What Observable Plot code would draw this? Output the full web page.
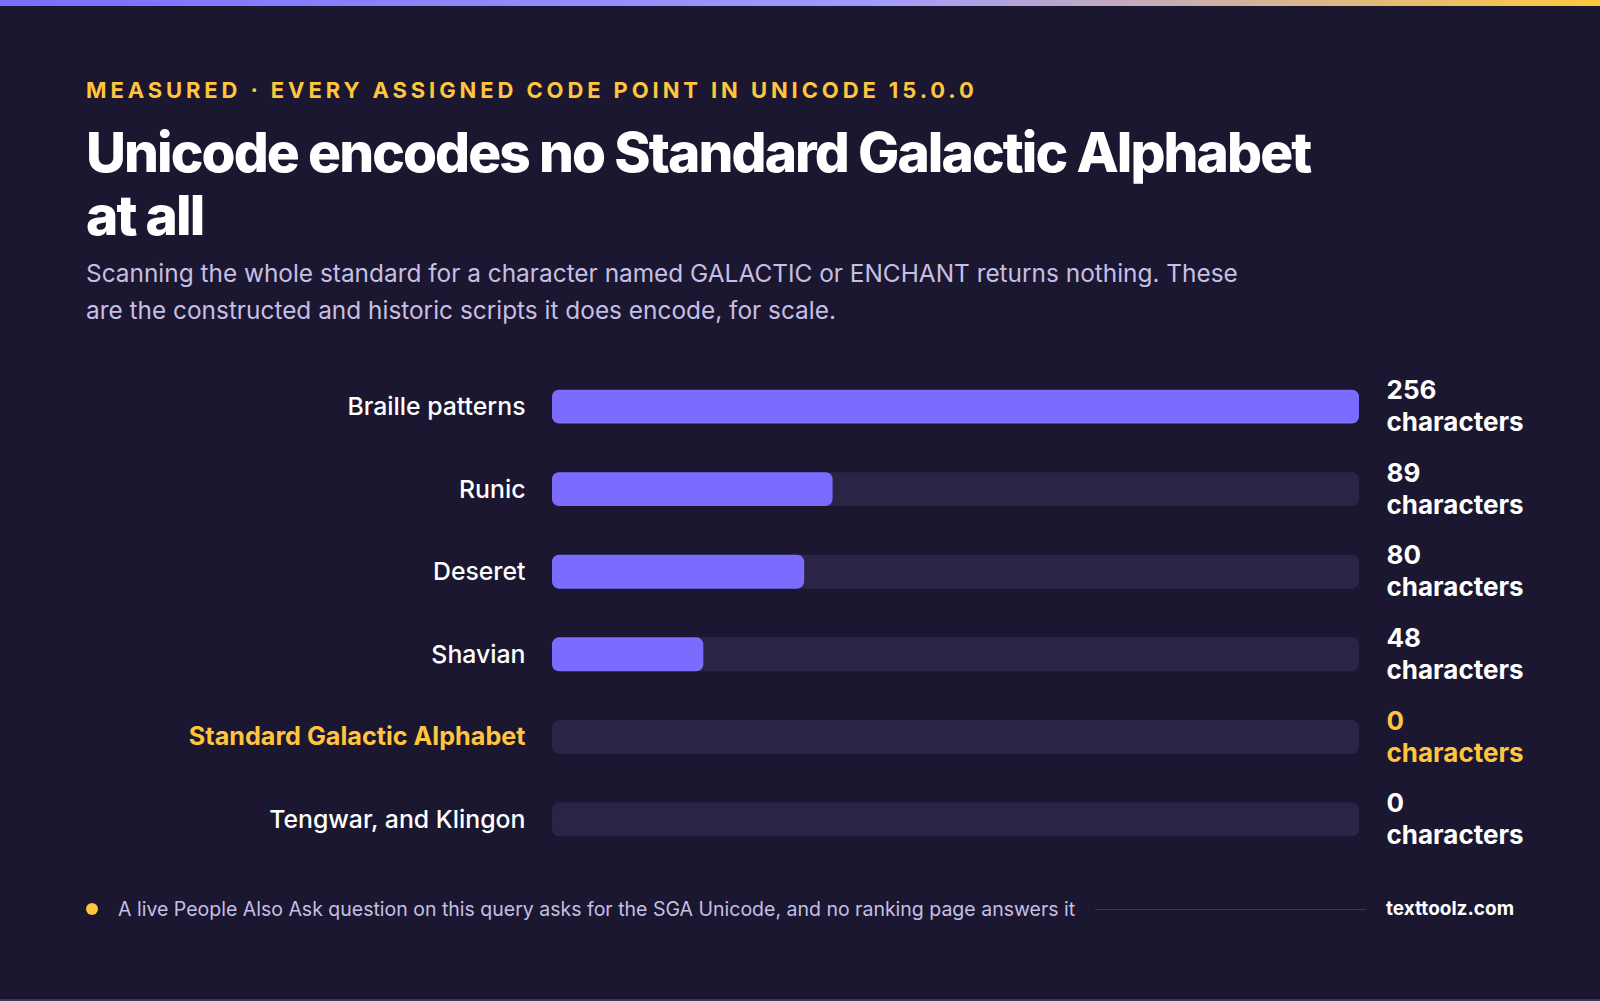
<!DOCTYPE html>
<html>
<head>
<meta charset="utf-8">
<script src="https://cdn.jsdelivr.net/npm/d3@7"></script>
<script src="https://cdn.jsdelivr.net/npm/@observablehq/plot@0.6"></script>
<style>
  html, body { margin: 0; padding: 0; }
  body { width: 1600px; height: 1001px; background: #1b1730; position: relative; overflow: hidden; font-family: Inter, "Noto Sans", sans-serif; }
  .topbar { position: absolute; left: 0; top: 0; width: 1600px; height: 6px; background: linear-gradient(90deg, #7b6cff 0%, #a39bff 55%, #ffc93c 100%); }
  .bottomline { position: absolute; left: 0; bottom: 0; width: 1600px; height: 2px; background: #3b3652; }
  .eyebrow { position: absolute; left: 86px; top: 77px; font-size: 22px; line-height: 26px; font-weight: 700; letter-spacing: 3.9px; color: #ffc53d; white-space: nowrap; }
  .title { position: absolute; left: 86px; top: 121px; width: 1350px; font-size: 55px; line-height: 63px; font-weight: 800; letter-spacing: -0.035em; color: #ffffff; }
  .subtitle { position: absolute; left: 86px; top: 255px; width: 1175px; font-size: 24.4px; line-height: 37px; font-weight: 400; color: #c6bfe4; }
  #chart { position: absolute; left: 0; top: 341px; }
  .footer { position: absolute; left: 86px; right: 86px; top: 896px; height: 26px; display: flex; align-items: center; gap: 20px; }
  .dot { width: 12px; height: 12px; border-radius: 50%; background: #ffc53d; flex: none; }
  .ftext { font-size: 19.5px; line-height: 26px; color: #c6bfe4; white-space: nowrap; flex: none; }
  .fline { flex: 1; height: 1px; background: #3d3856; }
  .brand { font-size: 19px; line-height: 26px; font-weight: 700; color: #ffffff; flex: none; }
</style>
</head>
<body>
<div class="topbar"></div>
<div class="eyebrow">MEASURED · EVERY ASSIGNED CODE POINT IN UNICODE 15.0.0</div>
<div class="title">Unicode encodes no Standard Galactic Alphabet<br>at all</div>
<div class="subtitle">Scanning the whole standard for a character named GALACTIC or ENCHANT returns nothing. These are the constructed and historic scripts it does encode, for scale.</div>
<div id="chart"></div>
<div class="footer">
  <div class="dot"></div>
  <div class="ftext">A live People Also Ask question on this query asks for the SGA Unicode, and no ranking page answers it</div>
  <div class="fline"></div>
  <div class="brand">texttoolz.com</div>
</div>
<div class="bottomline"></div>
<script>
const categories = ["Braille patterns", "Runic", "Deseret", "Shavian", "Standard Galactic Alphabet", "Tengwar, and Klingon"];
const counts = [256, 89, 80, 48, 0, 0];
const highlighted = ["Standard Galactic Alphabet"];
const unitLabel = "characters";
const xMax = 256;

const purple = "#7b6cff";
const track = "#2a2446";
const yellow = "#ffc53d";
const white = "#ffffff";

const rows = categories.map((c, i) => ({category: c, count: counts[i], hl: highlighted.includes(c)}));

const chart = Plot.plot({
  width: 1600,
  height: 544,
  marginLeft: 552,
  marginRight: 241,
  marginTop: 0,
  marginBottom: 0,
  x: {domain: [0, xMax], axis: null},
  y: {domain: categories, axis: null, padding: 0.59, align: 0.5, round: false},
  style: {background: "transparent", fontFamily: "Inter, 'Noto Sans', sans-serif", overflow: "visible"},
  marks: [
    Plot.barX(rows, {y: "category", x1: 0, x2: xMax, fill: track, rx: 7}),
    Plot.barX(rows.filter(d => d.count > 0), {y: "category", x: "count", fill: purple, rx: 7}),
    Plot.text(rows.filter(d => !d.hl), {y: "category", x: 0, dx: -27, text: "category", textAnchor: "end", fill: white, fontSize: 24.8, fontWeight: 500}),
    Plot.text(rows.filter(d => d.hl), {y: "category", x: 0, dx: -27, text: "category", textAnchor: "end", fill: yellow, fontSize: 25.2, fontWeight: 700}),
    Plot.text(rows.filter(d => !d.hl), {y: "category", x: xMax, dx: 27, dy: -2, text: d => `${d.count}\n${unitLabel}`, textAnchor: "start", fill: white, fontSize: 26, fontWeight: 700, lineHeight: 1.23}),
    Plot.text(rows.filter(d => d.hl), {y: "category", x: xMax, dx: 27, dy: -2, text: d => `${d.count}\n${unitLabel}`, textAnchor: "start", fill: yellow, fontSize: 26, fontWeight: 700, lineHeight: 1.23})
  ]
});
document.getElementById("chart").appendChild(chart);
</script>
</body>
</html>
